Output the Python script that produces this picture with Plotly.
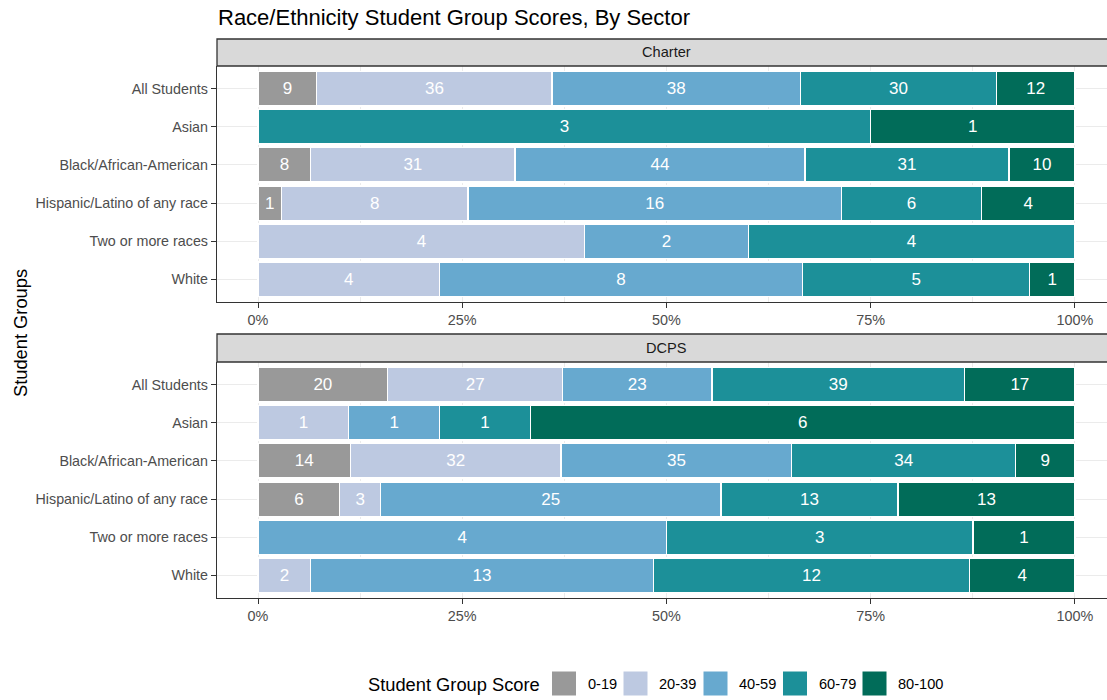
import plotly.graph_objects as go

# Student groups, top to bottom as in the chart
groups = [
    "All Students",
    "Asian",
    "Black/African-American",
    "Hispanic/Latino of any race",
    "Two or more races",
    "White",
]
score_bins = ["0-19", "20-39", "40-59", "60-79", "80-100"]
sectors = ["Charter", "DCPS"]

# Counts of schools per score bin (Charter)
charter_0_19 = [9, 0, 8, 1, 0, 0]
charter_20_39 = [36, 0, 31, 8, 4, 4]
charter_40_59 = [38, 0, 44, 16, 2, 8]
charter_60_79 = [30, 3, 31, 6, 4, 5]
charter_80_100 = [12, 1, 10, 4, 0, 1]

# Counts of schools per score bin (DCPS)
dcps_0_19 = [20, 0, 14, 6, 0, 0]
dcps_20_39 = [27, 1, 32, 3, 0, 2]
dcps_40_59 = [23, 1, 35, 25, 4, 13]
dcps_60_79 = [39, 1, 34, 13, 3, 12]
dcps_80_100 = [17, 6, 9, 13, 1, 4]

x_ticks = [0, 25, 50, 75, 100]
x_tick_labels = ["0%", "25%", "50%", "75%", "100%"]

BIN_COLORS = ["#999999", "#BDC9E1", "#67A9CF", "#1C9099", "#016C59"]
FONT = "Liberation Sans, Arial, sans-serif"
W, H = 1107, 700


def px_x(v):
    return v / W


def px_y(v):
    return 1 - v / H


sector_series = {
    "Charter": [charter_0_19, charter_20_39, charter_40_59, charter_60_79, charter_80_100],
    "DCPS": [dcps_0_19, dcps_20_39, dcps_40_59, dcps_60_79, dcps_80_100],
}

# panel placement in pixels (strip top, panel top, panel bottom)
panels = [(39, 66, 302), (334, 362, 598)]
left_px = 217

fig = go.Figure()

for i, sector in enumerate(sectors):
    axis_suffix = "" if i == 0 else str(i + 1)
    for b, counts in enumerate(sector_series[sector]):
        fig.add_trace(
            go.Bar(
                y=groups,
                x=counts,
                orientation="h",
                name=score_bins[b],
                marker=dict(color=BIN_COLORS[b], line=dict(color="white", width=1.3)),
                text=[str(c) if c else "" for c in counts],
                textposition="inside",
                insidetextanchor="middle",
                textangle=0,
                textfont=dict(color="white", size=17, family=FONT),
                xaxis="x" + axis_suffix,
                yaxis="y" + axis_suffix,
                showlegend=False,
                hoverinfo="skip",
            )
        )

axis_common_x = dict(
    range=[-5.02, 103.92],
    tickmode="array",
    tickvals=x_ticks,
    ticktext=x_tick_labels,
    showgrid=True,
    gridcolor="#EBEBEB",
    gridwidth=1.3,
    minor=dict(tickvals=[12.5, 37.5, 62.5, 87.5], showgrid=True,
               gridcolor="#EBEBEB", gridwidth=0.7, ticklen=0),
    zeroline=False,
    showline=True,
    linecolor="#333333",
    linewidth=1.3,
    ticks="outside",
    ticklen=5,
    tickwidth=1.3,
    tickcolor="#333333",
    tickfont=dict(size=14.4, color="#4D4D4D", family=FONT),
    domain=[px_x(left_px), 1.0],
)
axis_common_y = dict(
    categoryorder="array",
    categoryarray=groups[::-1],
    range=[-0.6, 5.6],
    showgrid=True,
    gridcolor="#EBEBEB",
    gridwidth=1.3,
    zeroline=False,
    showline=True,
    linecolor="#333333",
    linewidth=1.3,
    ticks="outside",
    ticklen=5,
    tickwidth=1.3,
    tickcolor="#333333",
    tickfont=dict(size=14.3, color="#4D4D4D", family=FONT),
)

shapes = []
annotations = []
for i, sector in enumerate(sectors):
    strip_top, top, bottom = panels[i]
    shapes.append(dict(
        type="rect", xref="paper", yref="paper",
        x0=px_x(left_px), x1=1.05, y0=px_y(top), y1=px_y(strip_top),
        fillcolor="#D9D9D9", line=dict(color="#333333", width=1.3), layer="above",
    ))
    annotations.append(dict(
        text=sector, xref="paper", yref="paper",
        x=px_x(666.5), y=px_y((strip_top + top) / 2),
        xanchor="center", yanchor="middle", showarrow=False,
        font=dict(size=14.6, color="#1A1A1A", family=FONT),
    ))

# title and axis title
annotations.append(dict(
    text="Race/Ethnicity Student Group Scores, By Sector", xref="paper", yref="paper",
    x=px_x(216), y=px_y(18), xanchor="left", yanchor="middle", showarrow=False,
    font=dict(size=22, color="black", family=FONT),
))
annotations.append(dict(
    text="Student Groups", xref="paper", yref="paper", textangle=-90,
    x=px_x(20), y=px_y(333), xanchor="center", yanchor="middle", showarrow=False,
    font=dict(size=18.3, color="black", family=FONT),
))

# legend drawn by hand to get ggplot-sized keys
annotations.append(dict(
    text="Student Group Score", xref="paper", yref="paper",
    x=px_x(542), y=px_y(684), xanchor="right", yanchor="middle", showarrow=False,
    font=dict(size=18.3, color="black", family=FONT),
))
key_left = [551.5, 623, 703, 782.5, 862]
for k, label in enumerate(score_bins):
    x0 = key_left[k]
    shapes.append(dict(
        type="rect", xref="paper", yref="paper",
        x0=px_x(x0), x1=px_x(x0 + 25), y0=px_y(696), y1=px_y(671),
        fillcolor=BIN_COLORS[k], line=dict(color="white", width=1),
    ))
    annotations.append(dict(
        text=label, xref="paper", yref="paper",
        x=px_x(x0 + 34), y=px_y(684), xanchor="left", yanchor="middle", showarrow=False,
        font=dict(size=14.6, color="black", family=FONT),
    ))

fig.update_layout(
    width=W,
    height=H,
    margin=dict(l=0, r=0, t=0, b=0),
    barmode="stack",
    barnorm="percent",
    bargap=0.1,
    plot_bgcolor="white",
    paper_bgcolor="white",
    font=dict(family=FONT),
    uniformtext=dict(minsize=17, mode="show"),
    xaxis=dict(axis_common_x, anchor="y"),
    yaxis=dict(axis_common_y, anchor="x", domain=[px_y(panels[0][2]), px_y(panels[0][1])]),
    xaxis2=dict(axis_common_x, anchor="y2"),
    yaxis2=dict(axis_common_y, anchor="x2", domain=[px_y(panels[1][2]), px_y(panels[1][1])]),
    shapes=shapes,
    annotations=annotations,
    showlegend=False,
)

# the page body has a default 8px margin; drop it so the figure fills the window
fig.write_html(
    "out.html",
    config={"displayModeBar": False},
    post_script="document.body.style.margin='0';document.body.style.overflow='hidden';",
)
